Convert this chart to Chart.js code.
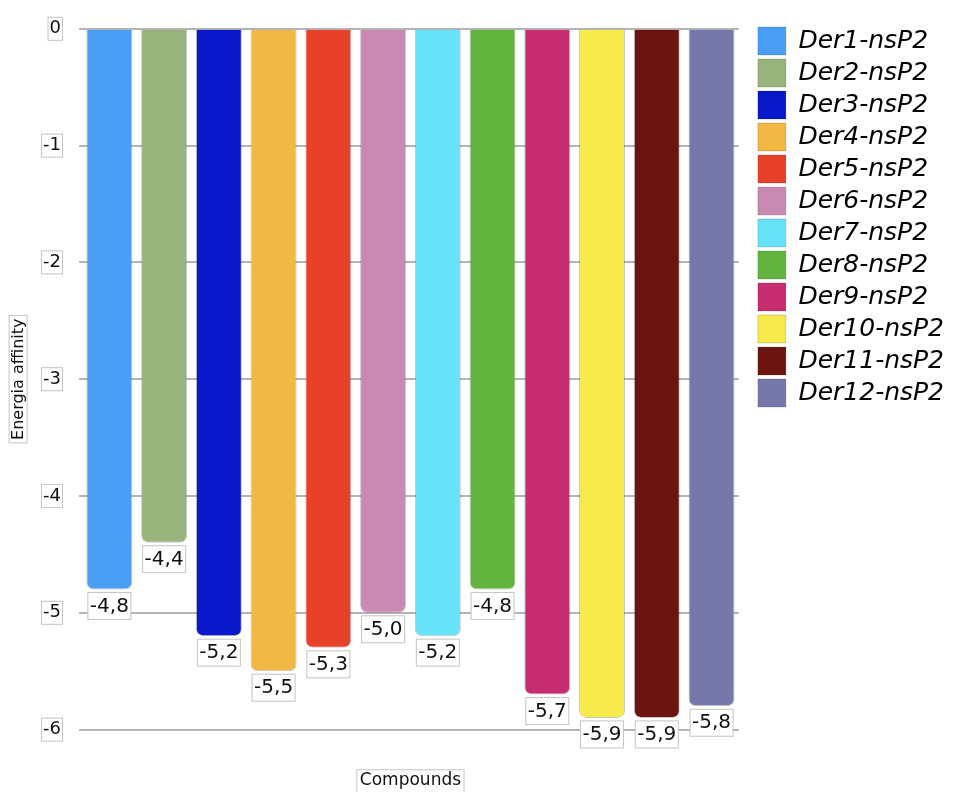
<!DOCTYPE html>
<html>
<head>
<meta charset="utf-8">
<script src="https://cdn.jsdelivr.net/npm/chart.js@4"></script>
<style>
  body { margin: 0; background: #fff; }
  #wrap { width: 961px; height: 792px; }
</style>
</head>
<body>
<div id="wrap"><canvas id="myChart"></canvas></div>
<script>
const compounds = ['Der1-nsP2', 'Der2-nsP2', 'Der3-nsP2', 'Der4-nsP2', 'Der5-nsP2', 'Der6-nsP2',
  'Der7-nsP2', 'Der8-nsP2', 'Der9-nsP2', 'Der10-nsP2', 'Der11-nsP2', 'Der12-nsP2'];
const affinity = [-4.8, -4.4, -5.2, -5.5, -5.3, -5.0, -5.2, -4.8, -5.7, -5.9, -5.9, -5.8];
const barColors = ['#4a9ff5', '#98b47c', '#0a18cc', '#f1b843', '#e8412a', '#c98ab2',
  '#68e2f8', '#62b43e', '#c52d70', '#f6ea4b', '#6c1510', '#7677ab'];
const yMin = -6;
const yMax = 0;

Chart.defaults.font.family = '"DejaVu Sans", sans-serif';
Chart.defaults.color = '#111';

const fmt = v => v.toFixed(1).replace('.', ',');
const boxLine = '#c4c4c4';
const tickLen = 3, tickPad = 18;

// boxed value under each bar
const valueBoxes = {
  id: 'valueBoxes',
  afterDatasetsDraw(chart) {
    const ctx = chart.ctx;
    ctx.save();
    ctx.font = '20px "DejaVu Sans"';
    ctx.textAlign = 'center';
    ctx.textBaseline = 'middle';
    chart.getDatasetMeta(0).data.forEach((bar, i) => {
      const txt = fmt(affinity[i]);
      const w = ctx.measureText(txt).width + 4;
      const top = bar.y + 3;
      ctx.fillStyle = '#fff';
      ctx.fillRect(bar.x - w / 2, top, w, 27);
      ctx.strokeStyle = boxLine;
      ctx.lineWidth = 1;
      ctx.strokeRect(bar.x - w / 2, top, w, 27);
      ctx.fillStyle = '#111';
      ctx.fillText(txt, bar.x, top + 14);
    });
    ctx.restore();
  }
};

// thin frames round tick labels and axis titles
const frames = {
  id: 'frames',
  afterDraw(chart) {
    const {ctx, chartArea, scales: {x, y}} = chart;
    ctx.save();
    ctx.strokeStyle = boxLine;
    ctx.lineWidth = 1;
    ctx.font = '18px "DejaVu Sans"';
    const right = chartArea.left - tickLen - tickPad;
    y.ticks.forEach((t, i) => {
      const py = y.getPixelForTick(i);
      const w = ctx.measureText(t.label).width;
      ctx.strokeRect(right - w - 1.5, py - 11.5, w + 3, 23);
    });
    ctx.font = '16px "DejaVu Sans"';
    const yw = ctx.measureText(y.options.title.text).width + 6;
    const ycx = y.left + 9.6 + 8.5;
    const ycy = (chartArea.top + chartArea.bottom) / 2;
    ctx.strokeRect(ycx - 9, ycy - yw / 2, 18, yw);
    ctx.font = '17px "DejaVu Sans"';
    const xw = ctx.measureText(x.options.title.text).width + 6;
    const xcx = (chartArea.left + chartArea.right) / 2;
    const xcy = x.bottom - 10.2 - 1;
    ctx.strokeRect(xcx - xw / 2, xcy - 11, xw, 24);
    ctx.restore();
  }
};

const legendNudge = {
  id: 'legendNudge',
  afterLayout(chart) {
    const lg = chart.legend;
    lg.left += 15; lg.right += 15;
    lg.top -= 3; lg.bottom -= 3;
  }
};

new Chart(document.getElementById('myChart'), {
  type: 'bar',
  data: {
    labels: compounds,
    datasets: [{
      label: 'Energia affinity',
      data: affinity,
      backgroundColor: barColors,
      borderColor: 'rgba(90,90,90,0.35)',
      borderWidth: 1,
      borderRadius: 7,
      barPercentage: 0.84,
      categoryPercentage: 1
    }]
  },
  options: {
    responsive: true,
    maintainAspectRatio: false,
    animation: false,
    layout: { padding: { top: 26, right: 22, bottom: 0, left: 0 } },
    plugins: {
      tooltip: { enabled: false },
      legend: {
        position: 'right',
        align: 'start',
        onClick: null,
        labels: {
          boxWidth: 28,
          boxHeight: 28,
          padding: 4,
          color: '#111',
          font: { size: 25, style: 'italic' },
          generateLabels: () => compounds.map((c, i) => ({
            text: c,
            fillStyle: barColors[i],
            strokeStyle: 'rgba(0,0,0,0.15)',
            lineWidth: 1,
            hidden: false,
            index: i
          }))
        }
      }
    },
    scales: {
      x: {
        type: 'category',
        ticks: { display: false },
        grid: { display: false, drawTicks: false },
        border: { display: false },
        title: { display: true, text: 'Compounds', font: { size: 17 }, padding: { top: 41, bottom: 1 } }
      },
      y: {
        min: yMin,
        max: yMax,
        ticks: { stepSize: 1, padding: tickPad, font: { size: 18 }, color: '#111' },
        grid: { color: '#b4b4b4', lineWidth: 2, tickLength: tickLen },
        border: { display: false },
        title: { display: true, text: 'Energia affinity', font: { size: 16 }, padding: { top: 9, bottom: 0 } },
        afterFit: s => { s.width = 82; }
      }
    }
  },
  plugins: [valueBoxes, frames, legendNudge]
});
</script>
</body>
</html>
